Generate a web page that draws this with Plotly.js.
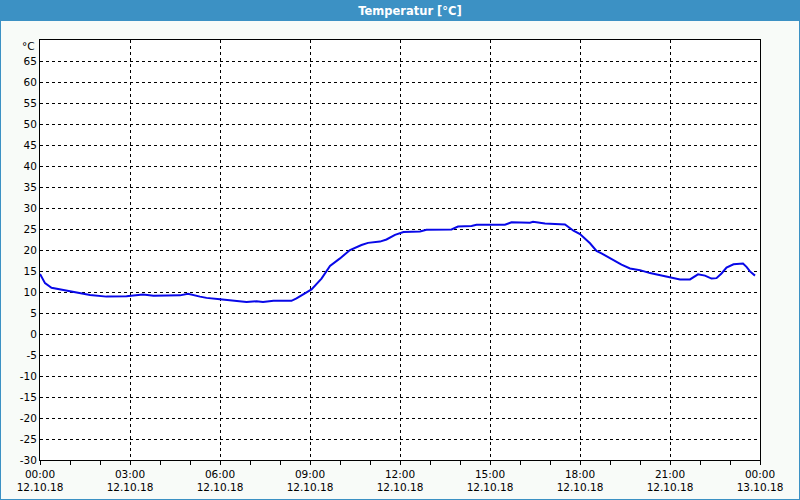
<!DOCTYPE html>
<html>
<head>
<meta charset="utf-8">
<script src="https://cdn.plot.ly/plotly-3.0.1.min.js"></script>
<style>
  html, body { margin: 0; padding: 0; background: #f8fbf8; }
  #chart { width: 800px; height: 500px; }
</style>
</head>
<body>
<div id="chart"></div>
<script>
const day = '2018-10-12 ';
const times = ['00:00','00:10','00:23','00:40','01:00','01:20','01:40','02:13','02:53','03:26',
  '03:47','04:40','04:56','05:20','05:33','06:00','06:26','06:53','07:13','07:26',
  '07:47','08:23','08:33','09:03','09:23','09:40','10:00','10:20','10:43','10:56',
  '11:20','11:33','11:50','12:07','12:40','12:53','13:43','13:56','14:23','14:33',
  '15:30','15:43','16:20','16:26','16:50','17:30','17:47','18:00','18:20','18:33',
  '18:43','19:03','19:23','19:40','20:00','20:20','20:40','21:00','21:20','21:40',
  '21:56','22:10','22:23','22:33','22:43','22:53','23:07','23:26','23:33','23:40','23:50'];
const temps = [14.3,12.1,11.0,10.6,10.3,9.8,9.3,8.9,9.0,9.4,
  9.1,9.2,9.6,8.9,8.6,8.3,7.9,7.6,7.8,7.6,
  7.9,7.9,8.5,10.6,13.2,16.2,18.0,20.0,21.2,21.7,
  22.0,22.5,23.6,24.3,24.4,24.8,24.9,25.6,25.7,26.0,
  26.0,26.6,26.5,26.7,26.3,26.1,24.6,23.8,21.6,19.8,
  19.2,17.8,16.5,15.6,15.2,14.5,14.0,13.6,13.0,13.0,
  14.2,13.9,13.2,13.3,14.4,15.8,16.6,16.8,16.0,14.9,13.9];

const xTickVals = ['2018-10-12 00:00','2018-10-12 03:00','2018-10-12 06:00','2018-10-12 09:00',
  '2018-10-12 12:00','2018-10-12 15:00','2018-10-12 18:00','2018-10-12 21:00','2018-10-13 00:00'];
const xTickText = ['00:00<br>12.10.18','03:00<br>12.10.18','06:00<br>12.10.18','09:00<br>12.10.18',
  '12:00<br>12.10.18','15:00<br>12.10.18','18:00<br>12.10.18','21:00<br>12.10.18','00:00<br>13.10.18'];
const yTickVals = [-30,-25,-20,-15,-10,-5,0,5,10,15,20,25,30,35,40,45,50,55,60,65,70];
const yTickText = ['-30','-25','-20','-15','-10','-5','0','5','10','15','20','25','30','35','40','45','50','55','60','65',''];
const yUnit = '°C';

const W = 800, H = 500, L = 40, R = 40, T = 40, B = 40;
const pw = W - L - R, ph = H - T - B;
const px = v => (v - L) / pw;
const py = v => (H - B - v) / ph;
const barColor = '#3c91c4';

const trace = {
  x: times.map(t => day + t),
  y: temps,
  type: 'scatter',
  mode: 'lines',
  line: { color: 'rgb(8,8,232)', width: 2 },
  hoverinfo: 'skip'
};

const font = { family: 'DejaVu Sans, Tahoma, sans-serif', size: 10.5, color: '#000' };

const layout = {
  width: W, height: H,
  margin: { l: L, r: R, t: T, b: B, pad: 0 },
  paper_bgcolor: '#f8fbf8',
  plot_bgcolor: '#ffffff',
  showlegend: false,
  font: font,
  title: {
    text: '<b>Temperatur [°C]</b>',
    font: { family: 'DejaVu Sans, Tahoma, sans-serif', size: 11.5, color: '#ffffff' },
    x: 410 / W, xanchor: 'center',
    y: 1 - 10.5 / H, yanchor: 'middle',
    xref: 'container', yref: 'container'
  },
  xaxis: {
    type: 'date',
    range: ['2018-10-12 00:00', '2018-10-13 00:00'],
    tickmode: 'array',
    tickvals: xTickVals,
    ticktext: xTickText,
    ticks: 'outside', ticklen: 4, tickcolor: '#000', tickwidth: 1,
    showgrid: true, gridcolor: '#000', gridwidth: 1, griddash: '3px,3px',
    showline: true, linecolor: '#000', linewidth: 1, mirror: true,
    zeroline: false,
    tickfont: font,
    minor: { dtick: 3600000, ticks: 'outside', ticklen: 4, tickcolor: '#000', showgrid: false },
    fixedrange: true
  },
  yaxis: {
    range: [-30, 70],
    tickmode: 'array',
    tickvals: yTickVals,
    ticktext: yTickText,
    ticks: '',
    showgrid: true, gridcolor: '#000', gridwidth: 1, griddash: '3px,3px',
    showline: true, linecolor: '#000', linewidth: 1, mirror: true,
    zeroline: false,
    tickfont: font,
    fixedrange: true
  },
  annotations: [
    { text: yUnit, xref: 'paper', yref: 'paper', x: px(37), y: py(46),
      xanchor: 'right', yanchor: 'middle', showarrow: false, font: font }
  ],
  shapes: [
    { type: 'rect', xref: 'paper', yref: 'paper', x0: px(0), x1: px(W), y0: py(21), y1: py(0),
      fillcolor: barColor, line: { width: 0 }, layer: 'above' },
    { type: 'rect', xref: 'paper', yref: 'paper', x0: px(0), x1: px(1), y0: py(H), y1: py(21),
      fillcolor: barColor, line: { width: 0 }, layer: 'above' },
    { type: 'rect', xref: 'paper', yref: 'paper', x0: px(W - 1), x1: px(W), y0: py(H), y1: py(21),
      fillcolor: barColor, line: { width: 0 }, layer: 'above' },
    { type: 'rect', xref: 'paper', yref: 'paper', x0: px(0), x1: px(W), y0: py(H), y1: py(H - 1),
      fillcolor: barColor, line: { width: 0 }, layer: 'above' }
  ]
};

Plotly.newPlot('chart', [trace], layout, { displayModeBar: false, staticPlot: true });
</script>
</body>
</html>
